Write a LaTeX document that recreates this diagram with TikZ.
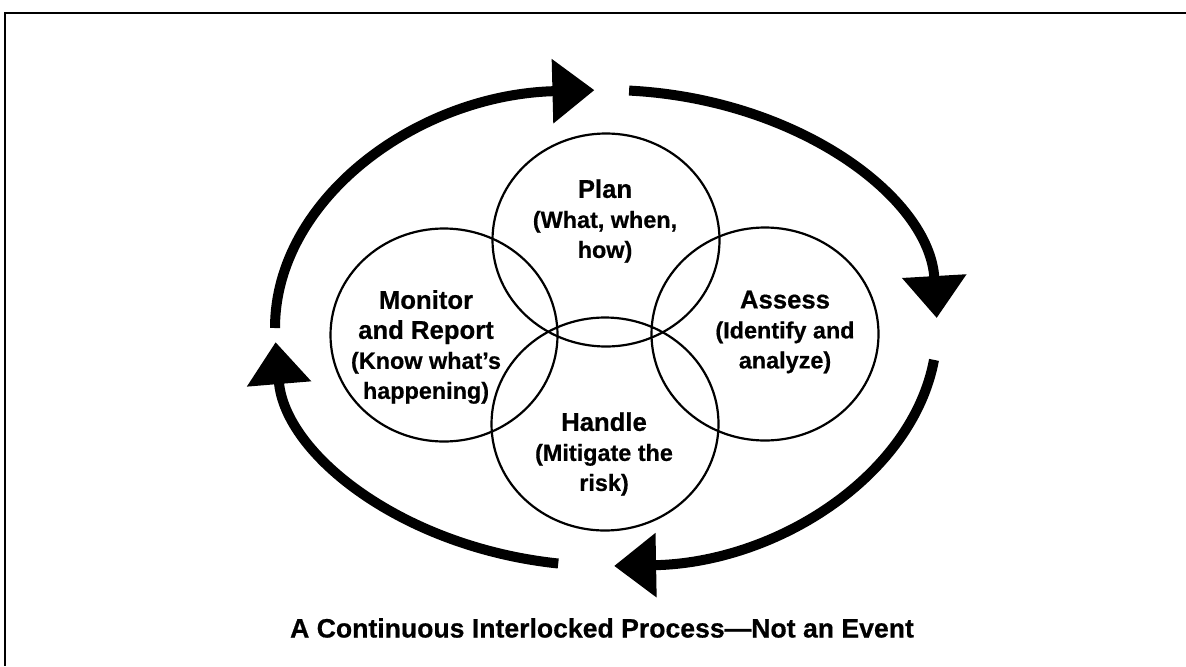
\documentclass[tikz,border=0pt]{standalone}
\usepackage{fontspec}
\setmainfont{Liberation Sans}[BoldFeatures={FakeBold=0.6}]
\usetikzlibrary{arrows.meta,shapes.geometric}
\newcommand{\ttlfont}{\fontsize{12.85}{15}\selectfont\bfseries}
\newcommand{\subfont}{\fontsize{11.7}{15}\selectfont\bfseries}
\begin{document}
\begin{tikzpicture}[x=0.5pt,y=0.5pt,
  ring/.style={draw, line width=1.1pt, ellipse, minimum width=113.5pt, minimum height=106.5pt, inner sep=0pt},
  lbl/.style={align=center, inner sep=0pt, font=\ttlfont},
  bigarrow/.style={line width=5pt, -{Triangle[length=21pt,width=31pt]}},
  frameline/.style={line width=1.4pt}]
\useasboundingbox (0,0) rectangle (1186,666);
% frame
\coordinate (FR) at (1186,653);
\coordinate (FC) at (5,653);
\coordinate (FB) at (5,0);
\draw[frameline] (FR) -- (FC) -- (FB);
% circles
\node[ring] (plan) at (606,426) {};
\node[ring] (monitor) at (444,331) {};
\node[ring] (assess) at (765,332) {};
\node[ring] (handle) at (605,242) {};
% labels
\node[lbl] (tplan) at (605,445) {Plan\\\subfont(What, when,\\\subfont how)};
\node[lbl] (tmon) at (426,319) {Monitor\\and Report\\\subfont(Know what’s\\\subfont happening)};
\node[lbl] (tass) at (785,334) {Assess\\\subfont(Identify and\\\subfont analyze)};
\node[lbl] (thand) at (604,212) {Handle\\\subfont(Mitigate the\\\subfont risk)};
% cycle arrows
\coordinate (O) at (606,338);
\draw[bigarrow] (O) ++(180:331 and 238) arc[start angle=180, end angle=92, x radius=331, y radius=238];
\draw[bigarrow] (O) ++(86:331 and 238) arc[start angle=86, end angle=2.4, x radius=331, y radius=238];
\draw[bigarrow] (O) ++(-7.7:331 and 238) arc[start angle=-7.7, end angle=-88.6, x radius=331, y radius=238];
\draw[bigarrow] (O) ++(-98.3:331 and 238) arc[start angle=-98.3, end angle=-176.6, x radius=331, y radius=238];
% caption
\node[inner sep=0pt, font=\fontsize{13.3}{15}\selectfont\bfseries] (cap) at (602,38) {A Continuous Interlocked Process---Not an Event};
\end{tikzpicture}
\end{document}
